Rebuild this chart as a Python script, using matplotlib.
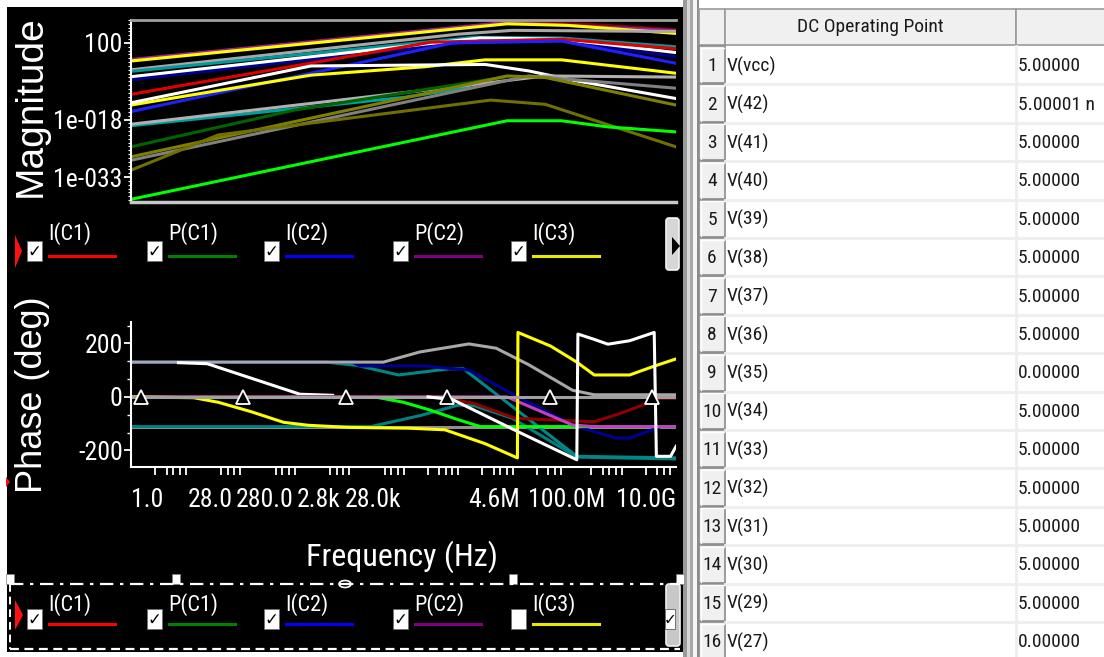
import numpy as np
import matplotlib
matplotlib.use('Agg')
import matplotlib.pyplot as plt
from matplotlib import font_manager
from matplotlib.patches import Rectangle, Polygon, FancyBboxPatch, Ellipse
from matplotlib.ticker import FixedLocator, NullFormatter

W, H = 1104, 657

names = {f.name for f in font_manager.fontManager.ttflist}


def pick(cands):
    for c in cands:
        if c in names:
            return c
    return 'DejaVu Sans'


NARROW = pick(['Roboto Condensed', 'Archivo Narrow', 'Asap Condensed', 'Barlow Semi Condensed'])
WIDE = pick(['Liberation Sans', 'Arimo', 'DejaVu Sans'])
plt.rcParams['font.family'] = [NARROW, 'DejaVu Sans']
plt.rcParams['axes.unicode_minus'] = False

# ---- magnitude traces: (decade of Hz, log10 magnitude) ----
m_darkred_top = ([0, 6.9, 8.2, 10], [-2.6, 7.3, 7.0, 5.5])
m_purple_top = ([0, 6.9, 10], [-2.3, 7.4, 5.2])
m_yellow_top = ([0, 6.9, 8.0, 10], [-2.7, 7.0, 6.6, 4.5])
m_gray_top = ([0, 6.0, 7.0, 10], [-5.0, 4.3, 5.3, 5.0])
m_navy = ([0, 6.5, 8.0, 10], [-7.6, 2.8, 2.5, -1.6])
m_blue = ([0, 5.9, 7.9, 10], [-15.9, 2.0, 2.5, -3.3])
m_red = ([0, 5.5, 7.9, 10], [-11.4, 2.2, 3.0, 0.5])
m_white_band = ([0, 6.4, 7.9, 10], [-6.8, 3.3, 3.0, -0.5])
m_teal = ([0, 6.3, 7.9, 10], [-5.4, 3.5, 3.3, 1.0])
m_yellow_mid = ([0, 3.3, 5.4, 6.5, 7.9, 10], [-14.2, -6.4, -4.2, -2.4, -2.4, -5.9])
m_white_mid = ([0, 3.3, 6.5, 7.3, 8.1, 10], [-13.6, -4.0, -3.6, -5.3, -7.7, -12.5])
m_gray_k = ([0, 6.2, 7.6, 10], [-19.2, -9.0, -6.6, -6.9])
m_teal_low = ([0, 5.0, 6.2], [-19.6, -12.2, -9.6])
m_gray_l = ([0, 7.3, 10], [-28.6, -6.6, -9.8])
m_olive_up = ([0, 6.9, 7.6, 10], [-27.7, -6.6, -7.0, -14.2])
m_olive_low = ([0, 1.6, 6.6, 7.6, 10], [-31.2, -22.0, -12.9, -14.0, -25.1])
m_darkgreen = ([0, 3.0, 6.9], [-25.1, -15.5, -6.8])
m_lime = ([0, 6.9, 7.9, 8.75, 10], [-38.8, -18.3, -18.3, -19.9, -21.2])

# ---- phase traces: (decade of Hz, degrees) ----
p_gray_low = ([0, 10], [-111, -111])
p_teal_low = ([0, 4.4, 5.3, 6.0, 6.3, 7.0, 8.18, 10], [-111, -111, -70, -31, -33, -80, -225, -232])
p_zero = ([0, 10], [0, 0])
p_gray_hi = ([0, 4.63, 5.3, 6.2, 6.7, 7.3, 8.1, 8.5, 10], [130, 130, 168, 198, 182, 120, 25, 8, 8])
p_white_hi = ([0.87, 1.4, 3.1, 3.7], [128, 124, 10, 6])
p_teal_hi = ([0, 3.58, 4.14, 4.91, 5.84, 6.1, 8.18, 10], [130, 130, 118, 82, 105, 105, -222, -228])
p_blue = ([0, 4.06, 4.2, 5.35, 6.2, 7.1, 8.1, 8.9, 9.15, 9.72, 10],
          [130, 130, 116, 116, 100, 0, -105, -154, -154, -111, -111])
p_green = ([0, 4.47, 5.0, 5.5, 6.0, 6.41, 10], [0, 0, -20, -50, -85, -111, -111])
p_darkred = ([0, 5.68, 6.3, 7.05, 8.5, 9.0, 9.72, 10], [0, 0, -25, -80, -93, -60, -5, -5])
p_purple = ([0, 6.9, 7.3, 8.1, 8.5, 10], [0, 0, -35, -105, -111, -111])
p_yellow = ([0, 1.15, 1.6, 2.2, 2.8, 3.25, 4.0, 5.1, 5.76, 6.5, 7.09, 7.1, 7.7, 8.18, 8.5, 9.15, 9.6, 10],
            [0, -3, -20, -55, -95, -106, -114, -117, -123, -175, -228, 241, 190, 130, 82, 82, 115, 142])
p_white_big = ([5.45, 5.9, 6.08, 7.1, 8.18, 8.2, 8.5, 8.75, 9.15, 9.6, 9.64, 9.9, 10],
               [0, -10, -28, -130, -235, 235, 215, 197, 210, 241, -222, -222, -185])
cursor_dec = [0.18, 2.05, 3.95, 5.8, 7.68, 9.56]

freq_labels = ['1.0', '28.0', '280.0', '2.8k', '28.0k', '4.6M', '100.0M', '10.0G']
freq_label_hz = [1, 28, 280, 2.8e3, 2.8e4, 4.6e6, 1e8, 1e10]
mag_tick_vals = [1e2, 1e-18, 1e-33]
mag_tick_labels = ['100', '1e-018', '1e-033']
phase_tick_vals = [200, 0, -200]

legend_labels = ['I(C1)', 'P(C1)', 'I(C2)', 'P(C2)', 'I(C3)']
legend_colors = ['#ff0000', '#008000', '#0000ff', '#800080', '#e8e800']
checked_top = [True, True, True, True, True]
checked_bottom = [True, True, True, True, False]

row_names = ['V(vcc)', 'V(42)', 'V(41)', 'V(40)', 'V(39)', 'V(38)', 'V(37)', 'V(36)',
             'V(35)', 'V(34)', 'V(33)', 'V(32)', 'V(31)', 'V(30)', 'V(29)', 'V(27)']
row_values = ['5.00000', '5.00001 n', '5.00000', '5.00000', '5.00000', '5.00000', '5.00000', '5.00000',
              '0.00000', '5.00000', '5.00000', '5.00000', '5.00000', '5.00000', '5.00000', '0.00000']

mag_series = [(m_darkred_top, '#800000'), (m_purple_top, '#a020a0'), (m_yellow_top, '#ffff00'),
              (m_gray_top, '#a8a8a8'), (m_teal, '#009a9a'), (m_navy, '#000090'),
              (m_white_band, '#ffffff'), (m_red, '#e00000'), (m_blue, '#2020ff'),
              (m_yellow_mid, '#ffff00'), (m_white_mid, '#ffffff'), (m_teal_low, '#00a0a0'),
              (m_gray_k, '#b0b0b0'), (m_gray_l, '#808080'), (m_darkgreen, '#006400'),
              (m_olive_up, '#808000'), (m_olive_low, '#707000'), (m_lime, '#00ff00')]
phase_series = [(p_gray_low, '#909090'), (p_teal_low, '#008080'), (p_teal_hi, '#008888'),
                (p_blue, '#000090'), (p_gray_hi, '#a8a8a8'), (p_white_hi, '#ffffff'),
                (p_green, '#00ff00'), (p_darkred, '#900000'), (p_purple, '#c040c0'),
                (p_yellow, '#ffff00'), (p_zero, '#a0a0a0'), (p_white_big, '#ffffff')]

fig = plt.figure(figsize=(W / 100, H / 100), dpi=100, facecolor='white')

# background: black scope panel, splitter, table
bg = fig.add_axes([0, 0, 1, 1])
bg.set_xlim(0, W)
bg.set_ylim(H, 0)
bg.axis('off')
bg.add_patch(Rectangle((7, 7), 676, 645, fc='black', ec='none'))
for x0, wd, c in [(683, 4, '#9a9a9a'), (687, 3, '#d8d8d8'), (690, 3, '#a8a8a8'),
                  (693, 4, '#f6f6f6'), (697, 2, '#8c8c8c')]:
    bg.add_patch(Rectangle((x0, 0), wd, H, fc=c, ec='none'))

tx0, tx1, tx2 = 699, 725, 1016
row_h = 38.4
for xa, xb in [(tx0, tx1), (tx1, tx2), (tx2, W + 2)]:
    bg.add_patch(Rectangle((xa, 9), xb - xa, 36, fc='#f0f0f0', ec='#9a9a9a', lw=1.2))
bg.text((tx1 + tx2) / 2, 27, 'DC Operating Point', ha='center', va='center',
        fontsize=14, color='#1a1a1a')
for i, (nm, val) in enumerate(zip(row_names, row_values)):
    y0 = 46 + i * row_h
    bg.plot([tx1, W], [y0 + row_h, y0 + row_h], color='#eeeeee', lw=2)
    bg.add_patch(Rectangle((tx0, y0), tx1 - tx0, row_h - 1, fc='#f0f0f0', ec='#8a8a8a', lw=1.2))
    bg.plot([tx0 + 1.5, tx0 + 1.5, tx1 - 1.5], [y0 + row_h - 2, y0 + 1.5, y0 + 1.5], color='white', lw=1)
    bg.text((tx0 + tx1) / 2, y0 + row_h / 2 + 1, str(i + 1), ha='center', va='center',
            fontsize=14, color='#1a1a1a')
    bg.text(tx1 + 2, y0 + row_h / 2 + 1, nm, ha='left', va='center', fontsize=14, color='#1a1a1a')
    bg.text(tx2 + 2, y0 + row_h / 2 + 1, val, ha='left', va='center', fontsize=14, color='#1a1a1a')
bg.plot([tx2, tx2], [46, H], color='#eeeeee', lw=2)

# ---- magnitude plot ----
axm = fig.add_axes([131 / W, 1 - 202 / H, 545 / W, 182 / H])
axm.set_facecolor('black')
for (dec, val), col in mag_series:
    axm.plot(10.0 ** np.asarray(dec), 10.0 ** np.asarray(val), color=col, lw=2.2)
axm.set_xscale('log')
axm.set_yscale('log')
axm.set_xlim(1, 1e10)
axm.set_ylim(10 ** -39.5, 1e8)
axm.spines['right'].set_visible(False)
axm.spines['left'].set_color('white')
axm.spines['left'].set_linewidth(1.5)
axm.spines['top'].set_color('#a0a0a0')
axm.spines['top'].set_linewidth(2)
axm.spines['bottom'].set_color('#c8c8c8')
axm.spines['bottom'].set_linewidth(2.5)
axm.tick_params(axis='x', which='both', bottom=False, labelbottom=False)
axm.yaxis.set_major_locator(FixedLocator(mag_tick_vals))
axm.set_yticklabels(mag_tick_labels)
axm.yaxis.set_minor_locator(FixedLocator([10.0 ** k for k in range(-39, 9)]))
axm.yaxis.set_minor_formatter(NullFormatter())
axm.tick_params(axis='y', which='major', colors='white', length=5, width=1.3, pad=1,
                labelsize=18.5, labelcolor='white')
axm.tick_params(axis='y', which='minor', colors='white', length=2, width=0.8)

# ---- phase plot ----
axp = fig.add_axes([131 / W, 1 - 467 / H, 545 / W, 145 / H])
axp.set_facecolor('black')
for (dec, val), col in phase_series:
    axp.plot(10.0 ** np.asarray(dec), val, color=col, lw=2.2)
axp.plot(10.0 ** np.asarray(cursor_dec), np.zeros(len(cursor_dec)), ls='none', marker='^',
         ms=10, mfc='black', mec='white', mew=1.3)
axp.set_xscale('log')
axp.set_xlim(1, 1e10)
axp.set_ylim(-262, 280)
for s in ['top', 'right']:
    axp.spines[s].set_visible(False)
for s in ['left', 'bottom']:
    axp.spines[s].set_color('white')
    axp.spines[s].set_linewidth(1.5)
axp.set_yticks(phase_tick_vals)
axp.yaxis.set_minor_locator(FixedLocator([k * 200 / 3 for k in range(-3, 5)]))
axp.tick_params(axis='y', which='major', colors='white', length=5, width=1.3, pad=1,
                labelsize=18.5, labelcolor='white')
axp.tick_params(axis='y', which='minor', colors='white', length=3, width=1)
axp.set_xticks(freq_label_hz, freq_labels)
tick_subs = [2.8, 4.5, 6.0, 7.8, 10.0]
axp.xaxis.set_minor_locator(FixedLocator([s * 10.0 ** k for k in range(10) for s in tick_subs]))
axp.xaxis.set_minor_formatter(NullFormatter())
axp.tick_params(axis='x', which='major', length=0, pad=15, labelsize=18.5, labelcolor='white')
axp.tick_params(axis='x', which='minor', colors='white', length=6, width=1.3)
xl = axp.get_xticklabels()
xl[0].set_ha('left')
xl[-1].set_ha('right')

# ---- overlay: labels, legends, handles ----
ui = fig.add_axes([0, 0, 1, 1])
ui.set_xlim(0, W)
ui.set_ylim(H, 0)
ui.axis('off')
ui.patch.set_visible(False)

ui.text(31, 106, 'Magnitude', rotation=90, ha='center', va='center', fontsize=28,
        family=WIDE, color='white')
ui.text(33, 395, 'Phase (deg)', rotation=90, ha='center', va='center', fontsize=26,
        family=WIDE, color='white')
ui.text(402, 557, 'Frequency (Hz)', ha='center', va='center', fontsize=23, color='white')

box_x = [27, 147, 264, 393, 511]


def legend_row(y_box, y_label, y_line, checked):
    for bx, lab, col, chk in zip(box_x, legend_labels, legend_colors, checked):
        ui.add_patch(Rectangle((bx, y_box), 15, 20, fc='white', ec='#707070', lw=0.6))
        if chk:
            ui.text(bx + 7.5, y_box + 11, '\u2713', ha='center', va='center', fontsize=12,
                    fontweight='bold', family='DejaVu Sans', color='black')
        ui.text(bx + 21, y_label, lab, ha='left', va='center', fontsize=16, color='white')
        ui.plot([bx + 22, bx + 88], [y_line, y_line], color=col, lw=2.2)


legend_row(241, 234, 256, checked_top)
legend_row(609, 605, 624, checked_bottom)

# red pointers on the left edge
ui.add_patch(Polygon([[15, 235], [22, 251], [15, 268]], fc='#ff1010', ec='none'))
ui.add_patch(Polygon([[15, 600], [23, 615], [15, 630]], fc='#ff1010', ec='none'))
ui.add_patch(Polygon([[6, 477], [10, 482], [6, 487]], fc='#ff1010', ec='none'))

# scroll buttons
ui.add_patch(FancyBboxPatch((666, 218), 13, 52, boxstyle='round,pad=0,rounding_size=3',
                            fc='#d6d6d6', ec='#f4f4f4', lw=1.2))
ui.add_patch(Polygon([[672, 237], [680, 246], [672, 255]], fc='black', ec='none'))
ui.add_patch(FancyBboxPatch((666, 584), 14, 62, boxstyle='round,pad=0,rounding_size=3',
                            fc='#c8c8c8', ec='#f0f0f0', lw=1.2))
ui.add_patch(Rectangle((665, 609), 10, 20, fc='white', ec='#606060', lw=0.6))
ui.text(670, 620, '\u2713', ha='center', va='center', fontsize=11, fontweight='bold',
        family='DejaVu Sans', color='black')

# selection frame of the lower legend
ui.plot([10, 680], [584, 584], color='white', lw=1.6, dashes=(6, 3, 1.5, 3))
ui.plot([10, 680], [649, 649], color='white', lw=1.6, dashes=(4, 2.5))
ui.plot([10, 10], [584, 649], color='white', lw=1.4, dashes=(4, 2.5))
for hx in [10, 176, 513, 680]:
    ui.add_patch(Rectangle((hx - 4, 574), 8, 10, fc='white', ec='#808080', lw=0.5))
ui.add_patch(Ellipse((345, 584), 12, 7, fc='black', ec='white', lw=1.2))

fig.savefig('out.png', dpi=100, facecolor='white')
